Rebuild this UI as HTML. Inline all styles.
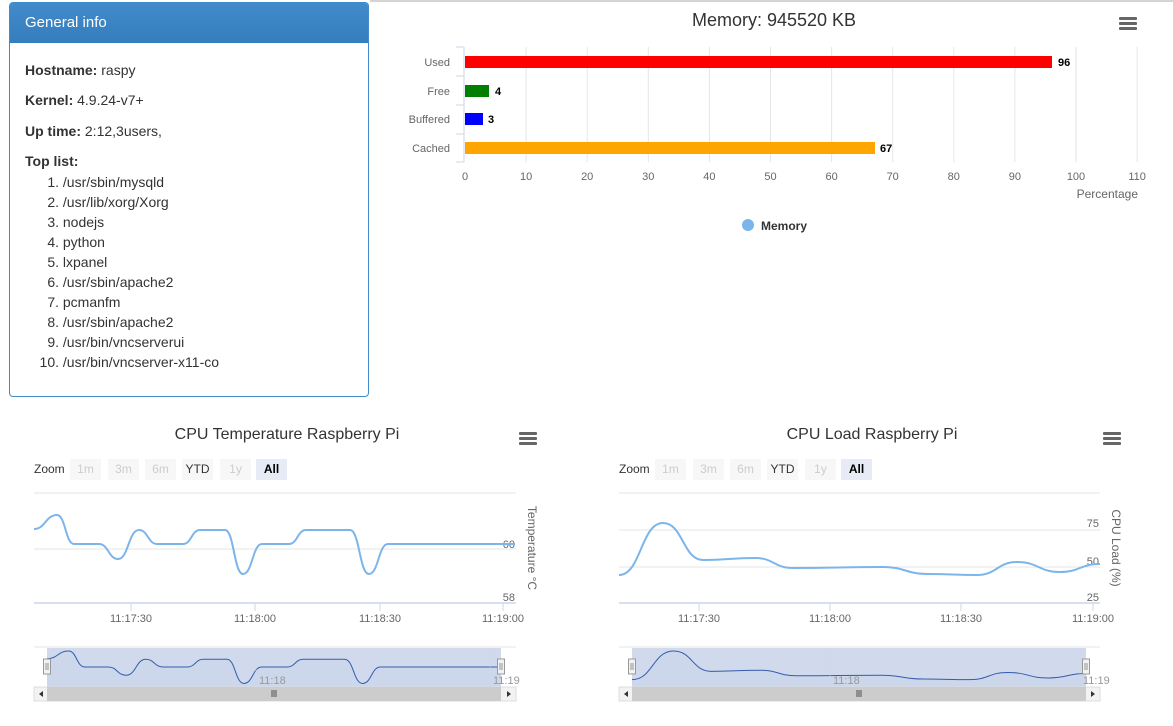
<!DOCTYPE html>
<html><head><meta charset="utf-8">
<style>
body{margin:0;width:1173px;height:726px;overflow:hidden;background:#fff;font-family:"Liberation Sans",sans-serif;position:relative}
.card{position:absolute;left:9px;top:2px;width:358px;height:393px;border:1px solid #428bca;border-radius:4px;overflow:hidden;color:#333;font-size:14px}
.hd{background:linear-gradient(#428bca,#357ebd);color:#fff;height:40px;line-height:40px;padding-left:15px;font-size:15px}
.row{position:absolute;left:15px}
.li{position:absolute;left:0;width:360px}
.li span{display:inline-block;width:49px;text-align:right}
svg{position:absolute;left:0;top:0}
</style></head><body>
<svg width="1173" height="726" font-family="Liberation Sans, sans-serif">
<line x1="370" y1="1" x2="1173" y2="1" stroke="#aaa"/>
<text x="774" y="26" text-anchor="middle" font-size="18" fill="#333">Memory: 945520 KB</text>
<g id="memgrid" stroke="#e6e6e6"></g>
<line x1="464" y1="47" x2="464" y2="162" stroke="#ccd6eb"/>
<g stroke="#ccd6eb"><line x1="456" y1="47" x2="464" y2="47"/><line x1="456" y1="76" x2="464" y2="76"/><line x1="456" y1="105" x2="464" y2="105"/><line x1="456" y1="134" x2="464" y2="134"/><line x1="456" y1="162" x2="464" y2="162"/></g>
<g font-size="11" fill="#666" text-anchor="end"><text x="450" y="66">Used</text><text x="450" y="95">Free</text><text x="450" y="123">Buffered</text><text x="450" y="152">Cached</text></g>
<rect x="465" y="56" width="587" height="12" fill="#f00"/>
<rect x="465" y="85" width="24" height="12" fill="#008000"/>
<rect x="465" y="113" width="18" height="12" fill="#00f"/>
<rect x="465" y="142" width="410" height="12" fill="#ffa500"/>
<g font-size="11" font-weight="bold" fill="#000"><text x="1058" y="66">96</text><text x="495" y="95">4</text><text x="488" y="123">3</text><text x="880" y="152">67</text></g>
<g id="memlab" font-size="11" fill="#666" text-anchor="middle"></g>
<text x="1138" y="198" text-anchor="end" font-size="12" fill="#666">Percentage</text>
<circle cx="748" cy="225" r="6" fill="#7cb5ec"/>
<text x="761" y="230" font-size="12" font-weight="bold" fill="#333">Memory</text>
<g fill="#666"><rect x="1119" y="17" width="18" height="3" rx="1"/><rect x="1119" y="22" width="18" height="3" rx="1"/><rect x="1119" y="27" width="18" height="3" rx="1"/></g>

<text x="287" y="439" text-anchor="middle" font-size="16" fill="#333">CPU Temperature Raspberry Pi</text>
<text x="872" y="439" text-anchor="middle" font-size="16" fill="#333">CPU Load Raspberry Pi</text>
<g fill="#666"><rect x="519" y="432" width="18" height="3" rx="1"/><rect x="519" y="437" width="18" height="3" rx="1"/><rect x="519" y="442" width="18" height="3" rx="1"/>
<rect x="1103" y="432" width="18" height="3" rx="1"/><rect x="1103" y="437" width="18" height="3" rx="1"/><rect x="1103" y="442" width="18" height="3" rx="1"/></g>
<g id="charts"></g>
</svg>
<div class="card"><div class="hd">General info</div>
<div class="row" style="top:59px"><b>Hostname:</b> raspy</div>
<div class="row" style="top:89px"><b>Kernel:</b> 4.9.24-v7+</div>
<div class="row" style="top:120px"><b>Up time:</b> 2:12,3users,</div>
<div class="row" style="top:150px"><b>Top list:</b></div>
<div class="li" style="top:171px"><span>1.</span> /usr/sbin/mysqld</div>
<div class="li" style="top:191px"><span>2.</span> /usr/lib/xorg/Xorg</div>
<div class="li" style="top:211px"><span>3.</span> nodejs</div>
<div class="li" style="top:231px"><span>4.</span> python</div>
<div class="li" style="top:251px"><span>5.</span> lxpanel</div>
<div class="li" style="top:271px"><span>6.</span> /usr/sbin/apache2</div>
<div class="li" style="top:291px"><span>7.</span> pcmanfm</div>
<div class="li" style="top:311px"><span>8.</span> /usr/sbin/apache2</div>
<div class="li" style="top:331px"><span>9.</span> /usr/bin/vncserverui</div>
<div class="li" style="top:351px"><span>10.</span> /usr/bin/vncserver-x11-co</div>
</div>
<script>
var NS="http://www.w3.org/2000/svg";
function el(p,t,a,txt){var e=document.createElementNS(NS,t);for(var k in a)e.setAttribute(k,a[k]);if(txt!=null)e.textContent=txt;p.appendChild(e);return e;}
var g=document.getElementById('memgrid'),ml=document.getElementById('memlab');
for(var i=0;i<=11;i++){var x=465+i*61.1;if(i>0)el(g,'line',{x1:x,y1:47,x2:x,y2:162});el(ml,'text',{x:x,y:180},String(i*10));}
function sp(pts){var d='M'+pts[0][0]+','+pts[0][1];for(var i=1;i<pts.length;i++){var a=pts[i-1],b=pts[i],dx=(b[0]-a[0])/2;d+=' C'+(a[0]+dx)+','+a[1]+' '+(b[0]-dx)+','+b[1]+' '+b[0]+','+b[1];}return d;}
var C=document.getElementById('charts');
function chart(ox,x0,x1,grids,ylabs,title,tx,pts,ticks,nav){
 // zoom buttons
 el(C,'text',{x:ox+34,y:473,'font-size':12,fill:'#333'},'Zoom');
 var bs=['1m','3m','6m','YTD','1y','All'],bx=[70,108,145,182,220,256];
 for(var i=0;i<6;i++){var x=ox+bx[i];el(C,'rect',{x:x,y:459,width:31,height:21,fill:i==5?'#e6ebf5':'#f7f7f7'});
  el(C,'text',{x:x+15.5,y:473,'text-anchor':'middle','font-size':12,fill:i==3?'#333':(i==5?'#000':'#ccc'),'font-weight':i==5?'bold':'normal'},bs[i]);}
 el(C,'line',{x1:x0,y1:493,x2:x1,y2:493,stroke:'#e6e6e6'});
 grids.forEach(function(y){el(C,'line',{x1:x0,y1:y,x2:x1,y2:y,stroke:'#e6e6e6'});});
 el(C,'line',{x1:x0,y1:603,x2:x1,y2:603,stroke:'#ccd6eb','stroke-width':1.5});
 ylabs.forEach(function(l){el(C,'text',{x:x1-1,y:l[1],'text-anchor':'end','font-size':11,fill:'#666'},l[0]);});
 el(C,'text',{x:tx,y:548,'text-anchor':'middle','font-size':12,fill:'#666',transform:'rotate(90 '+tx+' 548)'},title);
 ticks.forEach(function(t){el(C,'line',{x1:t[0],y1:603,x2:t[0],y2:611,stroke:'#ccd6eb'});el(C,'text',{x:t[0],y:622,'text-anchor':'middle','font-size':11,fill:'#666'},t[1]);});
 el(C,'path',{d:sp(pts),fill:'none',stroke:'#7cb5ec','stroke-width':2});
 // navigator
 var n0=nav[0],n1=nav[1];
 el(C,'line',{x1:x0,y1:647,x2:x1,y2:647,stroke:'#e6e6e6'});
 el(C,'rect',{x:n0,y:648,width:n1-n0,height:39,fill:'rgba(102,133,194,0.3)'});
 var np=pts.map(function(p){return [n0+(p[0]-x0)*(n1-n0)/(x1-x0),nav[2]+(p[1]-nav[3])*0.55];});
 var d=sp(np);
 el(C,'path',{d:d+' L'+n1+',687 L'+n0+',687 Z',fill:'rgba(124,181,236,0.05)'});
 el(C,'path',{d:d,fill:'none',stroke:'#335cad','stroke-width':1});
 nav[4].forEach(function(t){el(C,'line',{x1:t[0],y1:648,x2:t[0],y2:687,stroke:'#ccd6eb','stroke-width':0.5});el(C,'text',{x:t[0]+3,y:684,'font-size':11,fill:'#999'},t[1]);});
 [n0,n1].forEach(function(x){el(C,'rect',{x:x-3.5,y:659,width:7,height:15,fill:'#f2f2f2',stroke:'#999'});el(C,'line',{x1:x-1,y1:663,x2:x-1,y2:670,stroke:'#333','stroke-width':0.5});el(C,'line',{x1:x+1,y1:663,x2:x+1,y2:670,stroke:'#333','stroke-width':0.5});});
 el(C,'rect',{x:x0,y:687,width:x1-x0,height:14,fill:'#f2f2f2',stroke:'#ddd'});
 el(C,'rect',{x:n0,y:687,width:n1-n0,height:14,fill:'#ccc'});
 el(C,'path',{d:'M'+(x0+9)+',691 L'+(x0+5)+',694 L'+(x0+9)+',697Z',fill:'#333'});
 el(C,'path',{d:'M'+(x1-9)+',691 L'+(x1-5)+',694 L'+(x1-9)+',697Z',fill:'#333'});
 var m=(n0+n1)/2;for(var k=-2;k<=2;k+=2)el(C,'line',{x1:m+k,y1:690,x2:m+k,y2:697,stroke:'#333','stroke-width':0.8});
}
chart(0,34,516,[549],[['60',548],['58',601]],'Temperature °C',528,
 [[34,529],[57,515],[74,544],[99,544],[118,559],[139,530],[157,544],[183,544],[200,530],[225,530],[243,574],[262,544],[289,544],[306,530],[350,530],[369,574],[388,544],[515,544]],
 [[131,'11:17:30'],[255,'11:18:00'],[380,'11:18:30'],[503,'11:19:00']],[47,501,651,515,[[256,'11:18'],[490,'11:19']]]);
chart(585,619,1100,[530,567],[['75',527],['50',565],['25',601]],'CPU Load (%)',1112,
 [[619,575],[663,523],[703,560],[755,558],[793,568],[883,567],[928,574],[977,575],[1017,562],[1060,572],[1100,564]],
 [[699,'11:17:30'],[830,'11:18:00'],[961,'11:18:30'],[1093,'11:19:00']],[632,1086,651,523,[[830,'11:18'],[1080,'11:19']]]);
</script>
</body></html>
